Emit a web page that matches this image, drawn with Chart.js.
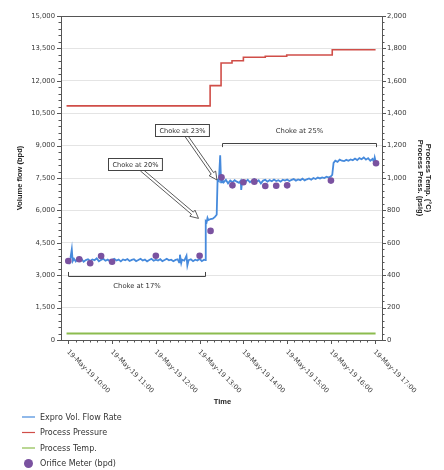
<!DOCTYPE html>
<html><head><meta charset="utf-8">
<script src="https://cdn.jsdelivr.net/npm/chart.js@4.4.0/dist/chart.umd.min.js"></script>
<style>html,body{margin:0;padding:0;background:#fff}</style>
</head><body>
<canvas id="c" width="444" height="470" style="width:444px;height:470px;display:block"></canvas>
<script>
// ---- data (time in decimal hours, 19-May-19) ----
const flowTimes = [9.95,10.00,10.03,10.05,10.08,10.10,10.13,10.17,10.20,10.25,10.30,10.35,10.40,10.45,10.50,10.55,10.60,10.65,10.70,10.75,10.80,10.85,10.90,10.95,11.00,11.05,11.10,11.15,11.20,11.25,11.30,11.35,11.40,11.45,11.50,11.55,11.60,11.65,11.70,11.75,11.80,11.85,11.90,11.95,12.00,12.05,12.10,12.15,12.20,12.25,12.30,12.35,12.40,12.45,12.50,12.53,12.55,12.58,12.60,12.65,12.70,12.72,12.75,12.80,12.85,12.90,12.95,13.00,13.05,13.10,13.13,
  13.14,13.16,13.18,13.20,13.25,13.30,13.35,13.39,13.41,13.44,13.47,13.49,13.51,13.55,13.60,13.65,13.70,13.75,13.80,13.85,13.90,13.94,13.95,13.97,14.00,14.05,14.10,14.15,14.20,14.25,14.30,14.35,14.40,14.45,14.50,14.55,14.60,14.65,14.70,14.75,14.80,14.85,14.90,14.95,15.00,15.05,15.10,15.15,15.20,15.25,15.30,15.35,15.40,15.45,15.50,15.55,15.60,15.65,15.70,15.75,15.80,15.85,15.90,15.95,16.00,16.03,
  16.06,16.10,16.15,16.20,16.25,16.30,16.35,16.40,16.45,16.50,16.55,16.60,16.65,16.70,16.75,16.80,16.85,16.90,16.95,16.98,17.00,17.03,17.06];
const flowValues = [3650,3720,3600,3800,4200,3650,3760,3640,3720,3680,3760,3620,3700,3740,3660,3730,3690,3780,3640,3710,3760,3670,3720,3650,3700,3760,3680,3720,3640,3730,3690,3750,3660,3710,3740,3650,3700,3760,3680,3720,3640,3700,3760,3670,3720,3680,3740,3650,3700,3760,3690,3720,3650,3710,3740,3600,3950,3560,3720,3680,3900,3450,3700,3740,3650,3720,3680,3760,3650,3720,3700,
  5500,5450,5650,5550,5600,5620,5700,5800,7400,7350,8550,7300,7450,7300,7420,7250,7380,7300,7400,7330,7280,7380,6950,7300,7380,7320,7420,7300,7380,7450,7330,7400,7250,7380,7420,7330,7400,7350,7430,7360,7400,7330,7420,7380,7430,7360,7410,7450,7380,7430,7400,7470,7390,7440,7480,7420,7500,7450,7520,7480,7530,7500,7560,7520,7580,7650,
  8200,8300,8250,8350,8300,8280,8340,8300,8360,8320,8400,8330,8420,8370,8450,8350,8420,8300,8380,8250,8450,8200,8250];
const pressureTimes = [9.96,13.24,13.49,13.74,14.00,14.50,14.99,16.03,17.02];
const pressureValues = [1445,1570,1710,1724,1745,1752,1759,1792,1792];
const tempTimes = [9.96,17.02];
const tempValues = [40,40];
const orificeTimes = [10.0,10.25,10.5,10.75,11.0,12.0,13.0,13.25,13.5,13.75,14.0,14.25,14.5,14.75,15.0,16.0,17.03];
const orificeValues = [3660,3740,3550,3890,3620,3900,3900,5050,7530,7160,7300,7330,7130,7140,7160,7380,8180];
const hourTicks = [10,11,12,13,14,15,16,17];
const hourLabels = ['19-May-19 10:00','19-May-19 11:00','19-May-19 12:00','19-May-19 13:00','19-May-19 14:00','19-May-19 15:00','19-May-19 16:00','19-May-19 17:00'];
const seriesNames = ['Expro Vol. Flow Rate','Process Pressure','Process Temp.','Orifice Meter (bpd)'];
const calloutLabels = ['Choke at 20%','Choke at 23%'];
const calloutBoxT = [11.515,12.602];
const calloutBoxV = [8140,9720];
const calloutTipT = [12.975,13.396];
const calloutTipV = [5630,7410];
const bracketLabels = ['Choke at 17%','Choke at 25%'];
const bracketStartT = [10.0,13.52];
const bracketEndT = [13.13,17.02];
const bracketV = [2950,9100];
const bracketEndV = [3150,8930];
const bracketTextV = [2470,9680];

const BLUE='rgb(70,138,220)', RED='rgb(208,78,72)', GREEN='rgb(140,188,78)', PURPLE='rgb(122,82,160)';
const AXIS='#555', TXT='#3a3a3a';
const zip=(a,b)=>a.map((t,i)=>({x:t,y:b[i]}));
const f = (s,b)=>(b?'bold ':'')+s+'px "DejaVu Sans"';

const deco = {
  id:'deco',
  afterDraw(chart){
    const ctx=chart.ctx, ca=chart.chartArea;
    const sx=chart.scales.x, sy=chart.scales.y, sy1=chart.scales.y1;
    ctx.save();
    // top border
    ctx.strokeStyle=AXIS; ctx.lineWidth=1;
    ctx.beginPath(); ctx.moveTo(ca.left,ca.top+0.5); ctx.lineTo(ca.right,ca.top+0.5); ctx.stroke();
    // ticks
    ctx.beginPath();
    for(let v=0; v<=15000; v+=300){
      const p=Math.round(sy.getPixelForValue(v))+0.5, L=(v%1500===0)?4:2.5;
      ctx.moveTo(ca.left-L,p); ctx.lineTo(ca.left,p);
    }
    for(let v=0; v<=2000; v+=40){
      const p=Math.round(sy1.getPixelForValue(v))+0.5, L=(v%200===0)?4:2.5;
      ctx.moveTo(ca.right,p); ctx.lineTo(ca.right+L,p);
    }
    for(let m=0; m<=7*60; m+=10){
      const t=10+m/60, p=Math.round(sx.getPixelForValue(t))+0.5, L=(m%60===0)?4:2.5;
      ctx.moveTo(p,ca.bottom); ctx.lineTo(p,ca.bottom+L);
    }
    ctx.stroke();
    // x tick labels, rotated down-right
    ctx.fillStyle=TXT; ctx.font=f(6.8); ctx.textAlign='left'; ctx.textBaseline='middle';
    hourTicks.forEach((h,i)=>{
      const p=sx.getPixelForValue(h);
      ctx.save(); ctx.translate(p-0.5,ca.bottom+11); ctx.rotate(Math.PI/4);
      ctx.fillText(hourLabels[i],0,0); ctx.restore();
    });
    // axis titles
    ctx.fillStyle='#222'; ctx.font='bold 7.5px "Liberation Sans"'; ctx.textAlign='center'; ctx.textBaseline='middle';
    ctx.fillText('Time',(ca.left+ca.right)/2+1,402);
    const cy=(ca.top+ca.bottom)/2;
    ctx.save(); ctx.translate(20,cy); ctx.rotate(-Math.PI/2); ctx.fillText('Volume flow (bpd)',0,0); ctx.restore();
    ctx.save(); ctx.translate(428,cy); ctx.rotate(Math.PI/2); ctx.fillText('Process Temp. (°C)',0,0); ctx.restore();
    ctx.save(); ctx.translate(420,cy); ctx.rotate(Math.PI/2); ctx.fillText('Process Press. (psig)',0,0); ctx.restore();
    // brackets
    ctx.strokeStyle='#444'; ctx.lineWidth=1; ctx.fillStyle='#333'; ctx.font=f(6.8);
    bracketLabels.forEach((lab,i)=>{
      const x0=Math.round(sx.getPixelForValue(bracketStartT[i]))+0.5, x1=Math.round(sx.getPixelForValue(bracketEndT[i]))+0.5;
      const y=Math.round(sy.getPixelForValue(bracketV[i]))+0.5, ye=sy.getPixelForValue(bracketEndV[i]);
      ctx.beginPath(); ctx.moveTo(x0,ye); ctx.lineTo(x0,y); ctx.lineTo(x1,y); ctx.lineTo(x1,ye); ctx.stroke();
      ctx.fillText(lab,(x0+x1)/2,sy.getPixelForValue(bracketTextV[i]));
    });
    // callouts with hollow block arrows
    calloutLabels.forEach((lab,i)=>{
      const cx=sx.getPixelForValue(calloutBoxT[i]), cyb=sy.getPixelForValue(calloutBoxV[i]);
      const tx=sx.getPixelForValue(calloutTipT[i]), ty=sy.getPixelForValue(calloutTipV[i]);
      ctx.font=f(6.6);
      const w=ctx.measureText(lab).width+8, h=12;
      const bx=Math.round(cx-w/2)+0.5, by=Math.round(cyb-h/2)+0.5;
      const dx=tx-cx, dy=ty-cyb, k=(h/2)/dy;
      const sxp=cx+dx*k, syp=cyb+h/2;
      const ang=Math.atan2(ty-syp,tx-sxp), len=Math.hypot(tx-sxp,ty-syp);
      ctx.save(); ctx.translate(sxp,syp); ctx.rotate(ang);
      const hl=8, hw=4, sw=1.4;
      ctx.beginPath();
      ctx.moveTo(0,-sw); ctx.lineTo(len-hl,-sw); ctx.lineTo(len-hl,-hw); ctx.lineTo(len,0);
      ctx.lineTo(len-hl,hw); ctx.lineTo(len-hl,sw); ctx.lineTo(0,sw); ctx.closePath();
      ctx.fillStyle='#fff'; ctx.fill(); ctx.strokeStyle='#444'; ctx.lineWidth=0.8; ctx.stroke();
      ctx.restore();
      ctx.fillStyle='#fff'; ctx.fillRect(bx,by,w,h);
      ctx.strokeStyle='#444'; ctx.lineWidth=1; ctx.strokeRect(bx,by,w,h);
      ctx.fillStyle='#333'; ctx.textAlign='center'; ctx.textBaseline='middle';
      ctx.fillText(lab,bx+w/2,by+h/2+0.5);
    });
    // legend
    const ds=chart.data.datasets;
    ctx.font=f(8); ctx.textAlign='left'; ctx.textBaseline='middle';
    seriesNames.forEach((name,i)=>{
      const y=417+i*15.5;
      const d=ds[i];
      if(i<3){
        ctx.strokeStyle=d.borderColor; ctx.lineWidth=1.2;
        ctx.beginPath(); ctx.moveTo(22,y); ctx.lineTo(35,y); ctx.stroke();
      } else {
        ctx.fillStyle=d.backgroundColor; ctx.beginPath(); ctx.arc(28.5,y,4.5,0,Math.PI*2); ctx.fill();
      }
      ctx.fillStyle='#333'; ctx.fillText(name,40,y+0.5);
    });
    ctx.restore();
  }
};

new Chart(document.getElementById('c'),{
  type:'line',
  data:{datasets:[
    {label:seriesNames[0],data:zip(flowTimes,flowValues),yAxisID:'y',borderColor:BLUE,borderWidth:1.8,pointRadius:0,tension:0,order:1},
    {label:seriesNames[1],data:zip(pressureTimes,pressureValues),yAxisID:'y1',borderColor:RED,borderWidth:1.6,pointRadius:0,stepped:'before',order:2},
    {label:seriesNames[2],data:zip(tempTimes,tempValues),yAxisID:'y1',borderColor:GREEN,borderWidth:2.2,pointRadius:0,order:3},
    {label:seriesNames[3],data:zip(orificeTimes,orificeValues),yAxisID:'y',type:'scatter',showLine:false,backgroundColor:PURPLE,borderColor:PURPLE,pointRadius:3.3,borderWidth:0,order:0}
  ]},
  options:{
    responsive:false, animation:false, locale:'en-US',
    layout:{padding:{top:16,bottom:0,left:0,right:0}},
    plugins:{legend:{display:false},tooltip:{enabled:false}},
    scales:{
      x:{type:'linear',min:9+50/60,max:17+10/60,
        ticks:{display:false},grid:{display:false,drawTicks:false},border:{color:AXIS,width:1},
        afterFit:s=>{s.height=130;}},
      y:{position:'left',min:0,max:15000,
        ticks:{stepSize:1500,color:TXT,font:{family:'DejaVu Sans',size:6.8},padding:6},
        grid:{color:'#e4e4e4',drawTicks:false},border:{color:AXIS,width:1},
        afterFit:s=>{s.width=61;}},
      y1:{position:'right',min:0,max:2000,
        ticks:{stepSize:200,color:TXT,font:{family:'DejaVu Sans',size:6.8},padding:5},
        grid:{drawOnChartArea:false,drawTicks:false},border:{color:AXIS,width:1},
        afterFit:s=>{s.width=62;}}
    }
  },
  plugins:[deco]
});
</script>
</body></html>
